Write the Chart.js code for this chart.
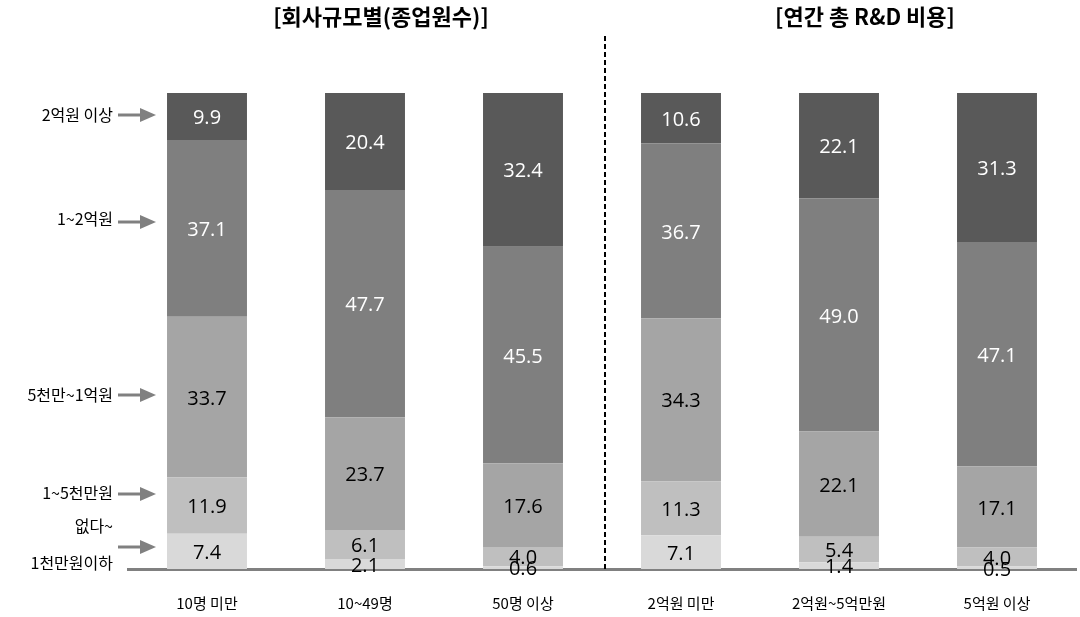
<!DOCTYPE html>
<html>
<head>
<meta charset="utf-8">
<script src="https://cdn.jsdelivr.net/npm/chart.js@4/dist/chart.umd.min.js"></script>
<style>
  html, body { margin: 0; padding: 0; background: #fff; }
  #wrap { width: 1080px; height: 617px; position: relative; }
</style>
</head>
<body>
<div id="wrap"><canvas id="chart" width="1080" height="617"></canvas></div>
<script>
// 범주 (x축)
const categories = ['10명 미만', '10~49명', '50명 이상', '2억원 미만', '2억원~5억만원', '5억원 이상'];

// 계열 (아래에서 위로)
const seriesNames = ['없다~1천만원이하', '1~5천만원', '5천만~1억원', '1~2억원', '2억원 이상'];
const under10m   = [7.4, 2.1, 0.6, 7.1, 1.4, 0.5];
const from1to5   = [11.9, 6.1, 4.0, 11.3, 5.4, 4.0];
const from5to10  = [33.7, 23.7, 17.6, 34.3, 22.1, 17.1];
const from1to2   = [37.1, 47.7, 45.5, 36.7, 49.0, 47.1];
const over2      = [9.9, 20.4, 32.4, 10.6, 22.1, 31.3];

// 그룹 제목
const groupTitles = ['[회사규모별(종업원수)]', '[연간 총 R&D 비용]'];

// 왼쪽 범례 라벨 (텍스트 줄, 화살표 위치)
const sideLabels = [
  { lines: ['2억원 이상'], y: [115], arrowY: 115 },
  { lines: ['1~2억원'], y: [219], arrowY: 222 },
  { lines: ['5천만~1억원'], y: [395], arrowY: 395 },
  { lines: ['1~5천만원'], y: [493], arrowY: 494 },
  { lines: ['없다~', '1천만원이하'], y: [526, 563], arrowY: 547 }
];

const colors = ['#d9d9d9', '#bfbfbf', '#a5a5a5', '#7f7f7f', '#595959'];
const labelColors = ['#000', '#000', '#000', '#fff', '#fff'];
const seriesData = [under10m, from1to5, from5to10, from1to2, over2];

const KR = '"Noto Sans CJK KR", "Noto Sans", sans-serif';

// 막대 안 값 라벨
const valueLabels = {
  id: 'valueLabels',
  afterDatasetsDraw(chart) {
    const ctx = chart.ctx;
    ctx.save();
    ctx.font = '20px "Open Sans", "Liberation Sans", sans-serif';
    ctx.textAlign = 'center';
    ctx.textBaseline = 'middle';
    chart.data.datasets.forEach((ds, i) => {
      const meta = chart.getDatasetMeta(i);
      meta.data.forEach((bar, j) => {
        const v = ds.data[j];
        const yc = (bar.y + bar.base) / 2;
        ctx.fillStyle = labelColors[i];
        ctx.fillText(v.toFixed(1), bar.x, yc + 2);
      });
    });
    ctx.restore();
  }
};

// 제목, 구분선, 왼쪽 라벨
const decorations = {
  id: 'decorations',
  afterDraw(chart) {
    const ctx = chart.ctx;
    const x = chart.scales.x;
    const area = chart.chartArea;
    ctx.save();

    // 구분 점선
    const midX = (x.getPixelForValue(2) + x.getPixelForValue(3)) / 2 + 3;
    ctx.strokeStyle = '#000';
    ctx.lineWidth = 2;
    ctx.setLineDash([5, 3]);
    ctx.beginPath();
    ctx.moveTo(midX, 36);
    ctx.lineTo(midX, area.bottom);
    ctx.stroke();
    ctx.setLineDash([]);

    // 그룹 제목
    ctx.fillStyle = '#000';
    ctx.font = 'bold 22px ' + KR;
    ctx.textAlign = 'center';
    ctx.textBaseline = 'middle';
    ctx.fillText(groupTitles[0], 381, 17);
    ctx.fillText(groupTitles[1], 865, 17);

    // 왼쪽 라벨 + 화살표
    ctx.font = '16px ' + KR;
    ctx.textAlign = 'right';
    sideLabels.forEach(s => {
      s.lines.forEach((t, k) => ctx.fillText(t, 113, s.y[k]));
      ctx.strokeStyle = '#808080';
      ctx.fillStyle = '#808080';
      ctx.lineWidth = 3;
      ctx.beginPath();
      ctx.moveTo(118, s.arrowY);
      ctx.lineTo(142, s.arrowY);
      ctx.stroke();
      ctx.beginPath();
      ctx.moveTo(140, s.arrowY - 7);
      ctx.lineTo(156, s.arrowY);
      ctx.lineTo(140, s.arrowY + 7);
      ctx.closePath();
      ctx.fill();
      ctx.fillStyle = '#000';
    });
    ctx.restore();
  }
};

new Chart(document.getElementById('chart'), {
  type: 'bar',
  data: {
    labels: categories,
    datasets: seriesNames.map((name, i) => ({
      label: name,
      data: seriesData[i],
      backgroundColor: colors[i],
      borderWidth: 0,
      categoryPercentage: 1,
      barPercentage: 0.506
    }))
  },
  options: {
    responsive: false,
    animation: false,
    layout: { padding: { left: 128, right: 4, top: 93, bottom: 0 } },
    plugins: {
      legend: { display: false },
      tooltip: { enabled: false }
    },
    scales: {
      x: {
        stacked: true,
        grid: { display: false, drawTicks: false },
        border: { display: true, color: '#808080', width: 3 },
        afterFit(scale) { scale.height = 48; },
        ticks: {
          color: '#000',
          padding: 25,
          font: { family: KR, size: 15 }
        }
      },
      y: {
        stacked: true,
        display: false,
        min: 0,
        max: 100
      }
    }
  },
  plugins: [valueLabels, decorations]
});
</script>
</body>
</html>
